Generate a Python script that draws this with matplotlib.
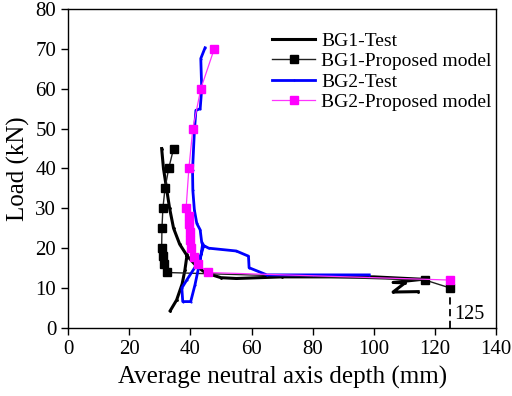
import numpy as np
import matplotlib
matplotlib.use('Agg')
import matplotlib.pyplot as plt

plt.rcParams['font.family'] = ['Liberation Serif', 'DejaVu Serif']

nan = np.nan

# BG1 test curve (NaN separates the two drawn pieces)
bg1_test_x = [33.4, 35.5, 37.3, 38.2, 38.9, nan,
              114.5, 106.3, 110.2, 106.3, 116.0, 100.0, 70.0, 55.0, 50.0,
              45.0, 42.0, 39.0, 36.5, 34.5, 33.2, 32.2, 31.2, 30.6]
bg1_test_y = [4.3, 7.0, 11.0, 14.5, 18.3, nan,
              9.1, 9.0, 11.3, 11.4, 12.2, 12.8, 12.8, 12.4, 12.6,
              13.8, 15.5, 18.0, 21.0, 25.0, 30.0, 35.0, 40.0, 45.0]

# BG1 proposed model
bg1_model_x = [125.0, 116.8, 32.2, 31.4, 31.0, 30.6, 30.7, 31.0, 31.7, 32.9, 34.5]
bg1_model_y = [10.0, 12.0, 13.9, 16.0, 18.0, 20.0, 25.0, 30.0, 35.0, 40.0, 45.0]

# BG2 test curve
bg2_test_x = [44.0, 43.2, 41.5, 40.1, 37.5, 37.2, 38.8, 43.0, 44.3, nan,
              98.5, 80.0, 65.0, 59.2, 59.0, 55.0, 46.0, 44.0, 43.7, 43.2,
              42.1, 41.3, 40.8, 40.7, 41.3, 41.8, 43.2, 43.7, 43.4, 44.8]
bg2_test_y = [21.0, 17.0, 10.8, 6.6, 6.6, 10.0, 12.0, 17.0, 20.5, nan,
              13.3, 13.3, 13.3, 15.1, 18.0, 19.3, 20.0, 20.8, 21.5, 24.6,
              26.2, 29.6, 34.5, 39.6, 49.2, 54.6, 55.0, 60.0, 67.6, 70.3]

# BG2 proposed model
bg2_model_x = [125.0, 45.6, 42.6, 41.3, 40.3, 40.0, 39.8, 39.7, 39.6, 38.6, 39.5, 40.8, 43.4, 47.8]
bg2_model_y = [12.0, 13.9, 16.0, 17.9, 20.0, 22.0, 24.0, 26.0, 28.0, 30.0, 40.0, 50.0, 60.0, 70.0]

fig = plt.figure(figsize=(5.12, 3.96), dpi=100)
ax = fig.add_axes([0.133, 0.172, 0.836, 0.805])

ax.plot(bg1_test_x, bg1_test_y, color='black', lw=2.2, marker='.', ms=2, label='BG1-Test')
ax.plot(bg1_model_x, bg1_model_y, color='#202020', lw=1.0, marker='s', ms=6,
        mfc='black', mec='black', label='BG1-Proposed model')
ax.plot(bg2_test_x, bg2_test_y, color='#0000ff', lw=2.0, marker='.', ms=1, label='BG2-Test')
ax.plot(bg2_model_x, bg2_model_y, color='#ff33ff', lw=0.9, marker='s', ms=6,
        mfc='#ff00ff', mec='#ff00ff', label='BG2-Proposed model')

ax.plot([125, 125], [0, 10], color='black', lw=1.3, ls=(0, (4, 2.5)))
ax.text(126.2, 3.3, '125', fontsize=14.5, va='center', ha='left')

ax.set_xlim(0, 140)
ax.set_ylim(0, 80)
ax.set_xticks(np.arange(0, 141, 20))
ax.set_yticks(np.arange(0, 81, 10))
ax.tick_params(direction='out', labelsize=15, length=5, width=1.0)
for s in ax.spines.values():
    s.set_linewidth(1.0)

ax.set_xlabel('Average neutral axis depth (mm)', fontsize=18, labelpad=5)
ax.set_ylabel('Load (kN)', fontsize=18, labelpad=4)

ax.legend(loc='upper left', bbox_to_anchor=(0.45, 0.965), frameon=False, fontsize=14,
          handlelength=2.2, handletextpad=0.3, labelspacing=0.15, borderaxespad=0.2)

fig.savefig('out.png', dpi=100)
